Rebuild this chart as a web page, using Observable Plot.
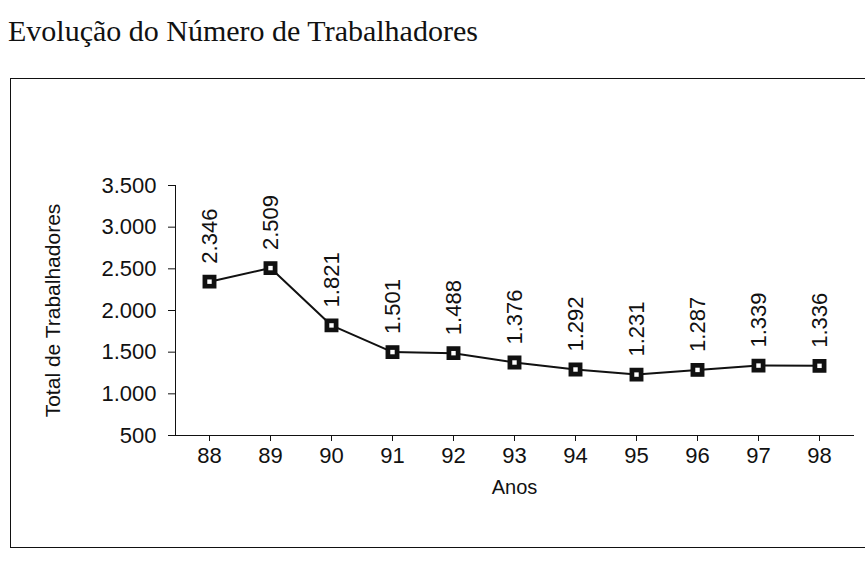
<!DOCTYPE html>
<html>
<head>
<meta charset="utf-8">
<script src="https://cdn.jsdelivr.net/npm/d3@7"></script>
<script src="https://cdn.jsdelivr.net/npm/@observablehq/plot@0.6"></script>
<style>
  html, body { margin: 0; padding: 0; background: #fff; }
  #wrap { position: relative; width: 865px; height: 583px; overflow: hidden; }
  #title { position: absolute; left: 8px; top: 14px; font-family: "Liberation Serif", "DejaVu Serif", serif; font-size: 30px; color: #111; white-space: nowrap; }
  #box { position: absolute; left: 10px; top: 78px; width: 900px; height: 470px; border: 1.5px solid #111; box-sizing: border-box; }
  #chart { position: absolute; left: 0; top: 80px; }
  #chart svg [aria-label="y-axis line"], #chart svg [aria-label="x-axis line"] { stroke-width: 1.5; }
</style>
</head>
<body>
<div id="wrap">
  <div id="title">Evolução do Número de Trabalhadores</div>
  <div id="box"></div>
  <div id="chart"></div>
</div>
<script>
const years = ["88", "89", "90", "91", "92", "93", "94", "95", "96", "97", "98"];
const workers = [2346, 2509, 1821, 1501, 1488, 1376, 1292, 1231, 1287, 1339, 1336];
const yTicks = [500, 1000, 1500, 2000, 2500, 3000, 3500];

const data = years.map((y, i) => ({year: y, value: workers[i]}));
const ptBR = d3.formatLocale({decimal: ",", thousands: ".", grouping: [3], currency: ["R$", ""]});
const fmt = ptBR.format(",");
const font = "Liberation Sans, Arial, sans-serif";

const chart = Plot.plot({
  width: 865,
  height: 420,
  marginLeft: 175,
  marginRight: 12,
  marginTop: 105,
  marginBottom: 65,
  style: {fontFamily: font, fontSize: "22px", color: "#111", background: "transparent", overflow: "visible"},
  x: {type: "point", domain: years, padding: 0.5, label: null, line: true, tickSize: 6, tickPadding: 6},
  y: {domain: [500, 3500], label: null, ticks: yTicks, tickFormat: fmt, tickSize: 7, tickPadding: 12, line: true},
  marks: [
    Plot.text(["Anos"], {frameAnchor: "bottom", dy: 52, lineAnchor: "middle", fontSize: 20, fill: "#111"}),
    Plot.text(["Total de Trabalhadores"], {frameAnchor: "left", dx: -122, rotate: -90, textAnchor: "middle", fontSize: 21, fill: "#111"}),
    Plot.line(data, {x: "year", y: "value", stroke: "#111", strokeWidth: 2}),
    Plot.dot(data, {x: "year", y: "value", symbol: "square", r: 7, fill: "#111", stroke: "#111"}),
    Plot.dot(data, {x: "year", y: "value", symbol: "square", r: 2.5, fill: "#fff", stroke: "none"}),
    Plot.text(data, {x: "year", y: "value", text: d => fmt(d.value), rotate: -90, textAnchor: "start", dy: -18, fontSize: 22, fill: "#111"})
  ]
});
document.getElementById("chart").appendChild(chart);
</script>
</body>
</html>
